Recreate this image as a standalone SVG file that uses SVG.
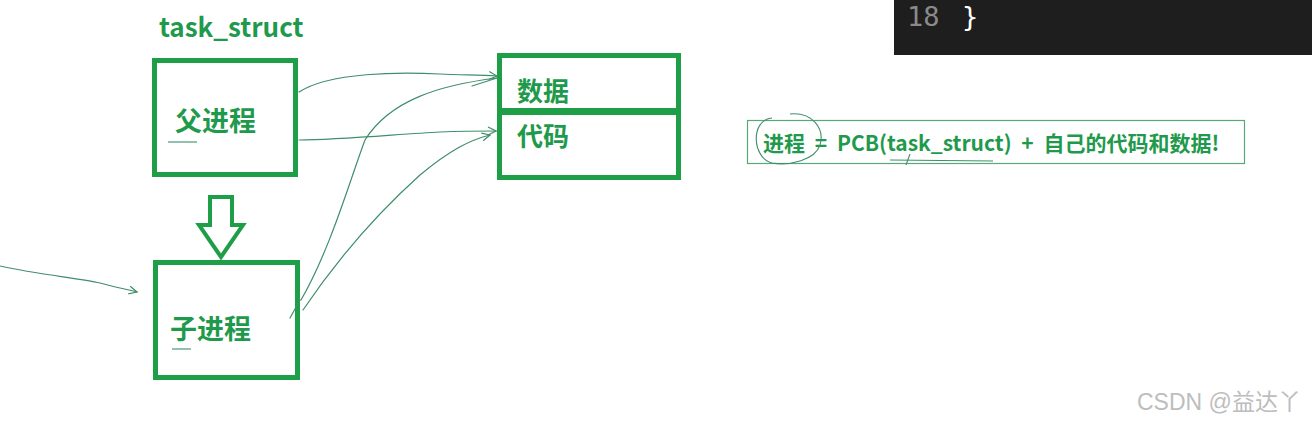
<svg xmlns="http://www.w3.org/2000/svg" width="1312" height="423" viewBox="0 0 1312 423">
<style>
.box{fill:none;stroke:#1f9e48;stroke-width:5}
.lbl{font-family:"Noto Sans CJK SC","Liberation Sans",sans-serif;font-weight:bold;fill:#1f9a4c}
.ink{fill:none;stroke:#3f8e6c;stroke-width:1.2;stroke-linecap:round}
.thin{fill:none;stroke:#5aa878;stroke-width:1.2}
</style>
<defs>
<marker id="chev" viewBox="0 0 10 10" refX="9" refY="5" markerWidth="10" markerHeight="10" markerUnits="userSpaceOnUse" orient="auto">
<path d="M1,1 L9,5 L1,9" fill="none" stroke="#3f8e6c" stroke-width="1.2"/>
</marker>
</defs>
<rect width="1312" height="423" fill="#ffffff"/>
<g id="code-panel">
<rect x="894" y="0" width="418" height="55" fill="#1e1e1e"/>
<text x="907" y="26" font-family="'DejaVu Sans Mono',monospace" font-size="27" fill="#8a8a8a">18</text>
<text x="962" y="26" font-family="'DejaVu Sans Mono',monospace" font-size="27" fill="#ffffff">}</text>
</g>
<g id="title">
<text class="lbl" x="159" y="37" font-size="26">task_struct</text>
</g>
<g id="parent">
<rect class="box" x="154.5" y="60.5" width="141" height="114"/>
<text class="lbl" x="175" y="131" font-size="27">父进程</text>
<line x1="168" y1="142" x2="197" y2="142" stroke="#4a9a7a" stroke-width="1.2"/>
</g>
<g id="data">
<rect class="box" x="499.5" y="55.5" width="179" height="55"/>
<text class="lbl" x="517" y="101" font-size="26">数据</text>
</g>
<g id="code">
<rect class="box" x="499.5" y="112.5" width="179" height="65"/>
<text class="lbl" x="517" y="146" font-size="26">代码</text>
</g>
<g id="fork-arrow">
<path d="M210,197 L232,197 L232,225 L243,225 L221,257 L199,225 L210,225 Z" fill="none" stroke="#1f9e48" stroke-width="4" stroke-linejoin="miter"/>
</g>
<g id="child">
<rect class="box" x="155.5" y="262.5" width="142" height="115"/>
<text class="lbl" x="170" y="339" font-size="27">子进程</text>
<line x1="172" y1="349" x2="191" y2="349" stroke="#4a9a7a" stroke-width="1.2"/>
</g>
<g id="connectors">
<path class="ink" d="M299,92 C330,72 400,72 440,74 C465,75 480,75 497,76" marker-end="url(#chev)"/>
<path class="ink" d="M299,140 C340,140 400,134 440,132 C465,131 480,131 496,131" marker-end="url(#chev)"/>
<path class="ink" d="M301,300 C330,250 350,180 365,140 C390,100 440,85 497,78"/>
<path class="ink" d="M472,86 L497,78"/>
<path class="ink" d="M303,310 C330,270 370,220 420,175 C450,150 470,140 490,135" marker-end="url(#chev)"/>
<path class="ink" d="M290,318 L300,300"/>
<path class="ink" d="M0,266 C40,275 80,278 100,283 C115,287 125,289 137,292" marker-end="url(#chev)"/>
</g>
<g id="formula">
<rect x="747.5" y="120.5" width="497" height="43" class="thin"/>
<text class="lbl" x="763" y="151" font-size="21" word-spacing="5" xml:space="preserve">进程 = PCB(task_struct) + 自己的代码和数据!</text>
<path d="M772,118 C750,120 752,158 772,163 C790,166 815,160 820,145 C825,128 812,112 790,114" fill="none" stroke="#3f8e6c" stroke-width="1.1"/>
<path d="M890,160 L993,161" fill="none" stroke="#3f8e6c" stroke-width="1.1"/>
<path d="M910,154 L906,165" fill="none" stroke="#3f8e6c" stroke-width="1.1"/>
</g>
<g id="watermark">
<text x="1137" y="410" font-family="'Liberation Sans','Noto Sans CJK SC',sans-serif" font-size="23" fill="#bdbdbd">CSDN @益达丫</text>
</g>
</svg>
